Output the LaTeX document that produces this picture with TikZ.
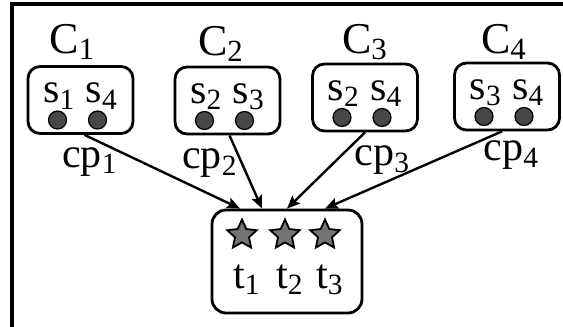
\documentclass[tikz,border=0pt]{standalone}
\usepackage{fontspec}
\setmainfont{Liberation Serif}
\usetikzlibrary{arrows.meta,shapes.geometric,calc}

\begin{document}
\begin{tikzpicture}[
	x=0.5pt, y=-0.5pt,
	font=\fontsize{21}{23}\selectfont,
	inner sep=0pt,
	cbox/.style={
		draw,
		line width=1.4pt,
		rounded corners=6pt,
		minimum width=52.5pt,
		minimum height=33.5pt,
	},
	tbox/.style={
		draw,
		line width=1.4pt,
		rounded corners=7pt,
		minimum width=75pt,
		minimum height=51.5pt,
	},
	clbl/.style={font=\fontsize{22}{24}\selectfont},
	sdot/.style={circle, draw, line width=0.6pt, fill=black!72, minimum size=9pt},
	tstar/.style={
		star, star points=5, star point ratio=2.1,
		draw, line width=0.9pt, fill=black!55,
		minimum size=15.5pt,
	},
	arr/.style={-{Stealth[length=6.5pt, width=5.5pt, inset=1.2pt]}, line width=1.2pt},
]
\useasboundingbox (0,0) rectangle (563,327);

% --- frame ---
\draw[line width=2pt] (563,4) -- (12,4) -- (12,327);

% --- clusters ---
\node[cbox] (cl1) at (80.5,100)  {};
\node[cbox] (cl2) at (227.5,100.5) {};
\node[cbox] (cl3) at (365,97.5)  {};
\node[cbox] (cl4) at (507,96.5)  {};

\foreach \c/\a/\b/\cx/\cy in {1/1/4/72.5/42, 2/2/3/221/44, 3/2/4/365/42, 4/3/4/504/42} {
	\node[clbl] (cn\c) at (\cx,\cy) {C\textsubscript{\c}};
	\node (sl\c) at ($(cl\c)+(0,-4)$) {s\textsubscript{\a} s\textsubscript{\b}};
	\node[sdot] (da\c) at ($(sl\c)+(-23,24)$) {};
	\node[sdot] (db\c) at ($(sl\c)+(17,24)$) {};
}

% --- candidate labels ---
\node (cp1) at ($(cl1)+(9.5,62)$)  {cp\textsubscript{1}};
\node (cp2) at ($(cl2)+(-17.5,63)$) {cp\textsubscript{2}};
\node (cp3) at ($(cl3)+(17.5,63)$) {cp\textsubscript{3}};
\node (cp4) at ($(cl4)+(4.5,59)$)  {cp\textsubscript{4}};

% --- target box ---
\node[tbox] (tgt) at (287,261.5) {};
\foreach \i/\x in {1/242, 2/285, 3/325} {
	\node[tstar] (st\i) at (\x,235) {};
	\node (tl\i) at ($(st\i)+(5,45)$) {t\textsubscript{\i}};
}

% --- arrows ---
\draw[arr] ($(cl1.south)+(4,0)$) -- ($(tgt.north)+(-47,0)$);
\draw[arr] ($(cl2.south)+(2,0)$) -- ($(tgt.north)+(-25,0)$);
\draw[arr] (cl3.south) -- (tgt.north);
\draw[arr] ($(cl4.south)+(-5,0)$) -- ($(tgt.north)+(38,0)$);

\end{tikzpicture}
\end{document}
